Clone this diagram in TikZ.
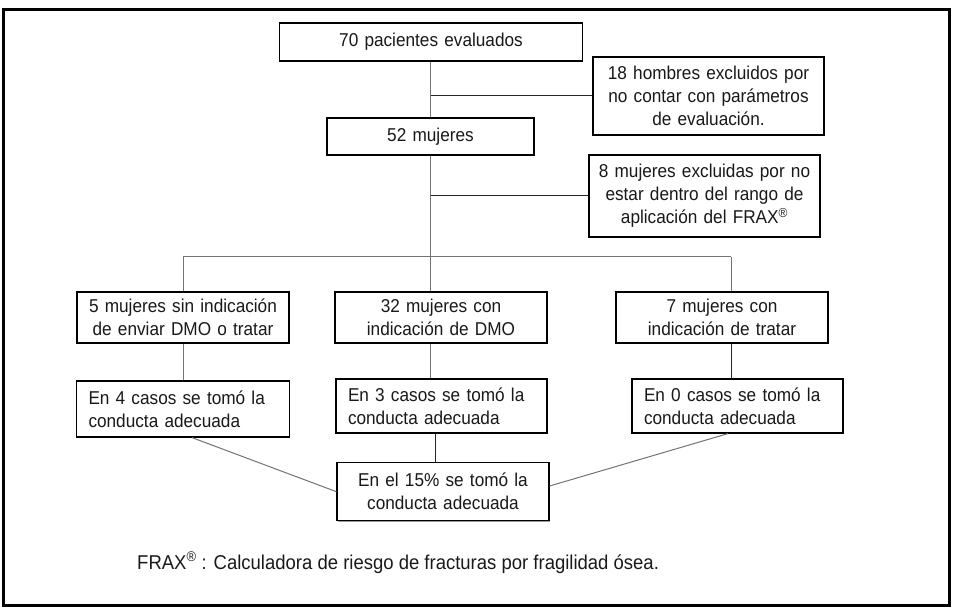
\documentclass[tikz,border=0pt]{standalone}
\usepackage{fontspec}
\setmainfont{Liberation Sans}[FakeStretch=0.925]
\usetikzlibrary{shadows}
\begin{document}
\begin{tikzpicture}[x=1pt,y=-1pt,
  box/.style={draw=black, line width=1.2pt, fill=white, align=center,
    inner xsep=6pt, inner ysep=0pt,
    font=\fontsize{18.6}{23}\selectfont, text=black!90,
    drop shadow={shadow xshift=0.8pt, shadow yshift=-1.2pt, fill=black!40, opacity=1}},
  lbox/.style={box, align=left, inner xsep=12pt},
  conn/.style={draw=black!55, line width=1pt},
  dconn/.style={draw=black!85, line width=1pt}]
\useasboundingbox (0,0) rectangle (954,612);
\draw[line width=3pt] (3,10) rectangle (949,605);

\node[box, text width=291pt, minimum height=38pt] (n70) at (431,42) {70 pacientes evaluados};
\node[box, text width=219pt, minimum height=78pt] (n18) at (708.5,96) {18 hombres excluidos por\\no contar con parámetros\\de evaluación.};
\node[box, text width=195pt, minimum height=37pt] (n52) at (430.5,136.5) {52 mujeres};
\node[box, text width=219pt, minimum height=82pt] (n8) at (704.5,196) {8 mujeres excluidas por no\\estar dentro del rango de\\aplicación del FRAX\textsuperscript{®}};

\node[box, text width=200pt, minimum height=51pt] (a5) at (183,317.5) {5 mujeres sin indicación\\de enviar DMO o tratar};
\node[box, text width=200pt, minimum height=51pt] (b32) at (441,317.5) {32 mujeres con\\indicación de DMO};
\node[box, text width=200pt, minimum height=51pt] (c7) at (722,317.5) {7 mujeres con\\indicación de tratar};

\node[lbox, text width=189pt, minimum height=56pt] (a4) at (183,409) {En 4 casos se tomó la\\conducta adecuada};
\node[lbox, text width=187pt, minimum height=54pt] (b3) at (441.5,406) {En 3 casos se tomó la\\conducta adecuada};
\node[lbox, text width=187pt, minimum height=54pt] (c0) at (737.5,406) {En 0 casos se tomó la\\conducta adecuada};

\node[box, text width=200pt, minimum height=58pt] (tot) at (443,491.7) {En el 15\% se tomó la\\conducta adecuada};

\node[anchor=base west, inner sep=0pt, font=\fontsize{20}{23}\selectfont, text=black!90] (fn) at (137,569)
  {FRAX\textsuperscript{®} : Calculadora de riesgo de fracturas por fragilidad ósea.};

\coordinate (busR) at (731,257);
\coordinate (t3) at ([xshift=-8pt]tot.north);

\draw[conn] (n52.north |- n70.south) -- (n52.north);
\draw[dconn] (n52.north |- n18.west) -- (n18.west);
\draw[conn] (n52.south) -- (n52.south |- b32.north);
\draw[dconn] (n52.south |- n8.west) -- (n8.west);
\draw[conn] (a5.north |- busR) -- (busR);
\draw[conn] (a5.north |- busR) -- (a5.north);
\draw[conn] (busR) -- (busR |- c7.north);
\draw[conn] (a5.south) -- (a4.north);
\draw[conn] (n52.south |- b32.south) -- (n52.south |- b3.north);
\draw[dconn] (busR |- c7.south) -- (busR |- c0.north);
\draw[dconn] (t3 |- b3.south) -- (t3);
\draw[conn] ([xshift=9pt]a4.south) -- (tot.west);
\draw[conn] ([xshift=-9.5pt]c0.south) -- ([yshift=5.7pt]tot.east);
\end{tikzpicture}
\end{document}
